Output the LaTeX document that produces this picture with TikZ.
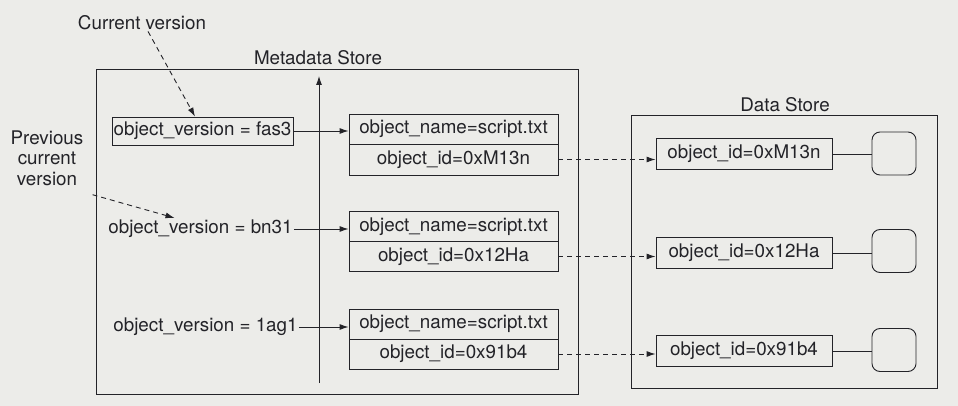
\documentclass[tikz,border=0pt]{standalone}
\usepackage{fontspec}
\setmainfont{TeX Gyre Heros}
\usetikzlibrary{arrows.meta}
\definecolor{bg}{RGB}{236,236,233}
\definecolor{ink}{RGB}{35,35,40}
\begin{document}
\begin{tikzpicture}[x=1pt,y=-1pt,
  font=\fontsize{18.8}{20.5}\selectfont,
  every node/.style={text=ink},
  box/.style={draw=ink, line width=0.9pt, inner sep=0pt, minimum height=30pt},
  lbl/.style={inner sep=1pt},
  arr/.style={draw=ink, line width=0.9pt, -{Latex[length=9pt,width=6pt]}},
  dasharr/.style={arr, dash pattern=on 5pt off 4pt},
  frame/.style={draw=ink, line width=0.9pt, inner sep=0pt},
  rbox/.style={draw=ink, line width=0.9pt, rounded corners=8pt, minimum width=44pt, minimum height=43pt, inner sep=0pt}]
\fill[bg] (0,0) rectangle (958,406);
\useasboundingbox (0,0) rectangle (958,406);

% frames
\node[frame, minimum width=482pt, minimum height=325pt] (meta) at (337,231.5) {};
\node[lbl] (metal) at (318,58) {Metadata Store};
\node[frame, minimum width=306pt, minimum height=273pt] (data) at (784,251.5) {};
\node[lbl] (datal) at (785,105) {Data Store};

% vertical arrow
\coordinate (vb) at (319,383);
\coordinate (vt) at (319,76);
\draw[arr] (vb) -- (vt);

% version nodes
\node[box, minimum width=181pt, minimum height=28pt] (v1) at (202.5,131) {object\_version = fas3};
\node[lbl] (v2) at (200.5,229) {object\_version = bn31};
\node[lbl] (v3) at (205.5,327) {object\_version = 1ag1};

% metadata records
\node[box, minimum width=209pt] (name1) at (453.5,129) {object\_name=script.txt};
\node[box, minimum width=209pt, minimum height=31pt] (id1) at (453.5,159.5) {object\_id=0xM13n};
\node[box, minimum width=209pt] (name2) at (453.5,226.5) {object\_name=script.txt};
\node[box, minimum width=209pt] (id2) at (453.5,256.5) {object\_id=0x12Ha};
\node[box, minimum width=209pt] (name3) at (453.5,324) {object\_name=script.txt};
\node[box, minimum width=209pt] (id3) at (453.5,354) {object\_id=0x91b4};

% data store records
\node[box, minimum width=176pt, minimum height=31pt] (d1) at (744,154) {object\_id=0xM13n};
\node[box, minimum width=176pt, minimum height=31pt] (d2) at (744,253) {object\_id=0x12Ha};
\node[box, minimum width=176pt, minimum height=31pt] (d3) at (744,351) {object\_id=0x91b4};
\node[rbox] (r1) at (894,153.5) {};
\node[rbox] (r2) at (894,251) {};
\node[rbox] (r3) at (894,350) {};

% labels
\node[lbl] (cur) at (142,23) {Current version};
\node[lbl, align=center] (prev) at (47,158) {Previous\\current\\version};

% connectors
\draw[arr] (v1.east) -- (v1.east -| name1.west);
\draw[arr] (v2.east) -- (v2.east -| name2.west);
\draw[arr] (v3.east) -- (v3.east -| name3.west);
\draw[dasharr] (id1.east) -- (id1.east -| d1.west);
\draw[dasharr] (id2.east) -- (id2.east -| d2.west);
\draw[dasharr] (id3.east) -- (id3.east -| d3.west);
\draw[frame] (d1.east) -- (d1.east -| r1.west);
\draw[frame] (d2.east) -- (d2.east -| r2.west);
\draw[frame] (d3.east) -- (d3.east -| r3.west);
\draw[dasharr] ([xshift=6pt]cur.south) -- ([xshift=-7.5pt]v1.north);
\draw[dasharr] ([xshift=8pt,yshift=-8pt]prev.south east) -- ([xshift=-26pt,yshift=1pt]v2.north);
\end{tikzpicture}
\end{document}
